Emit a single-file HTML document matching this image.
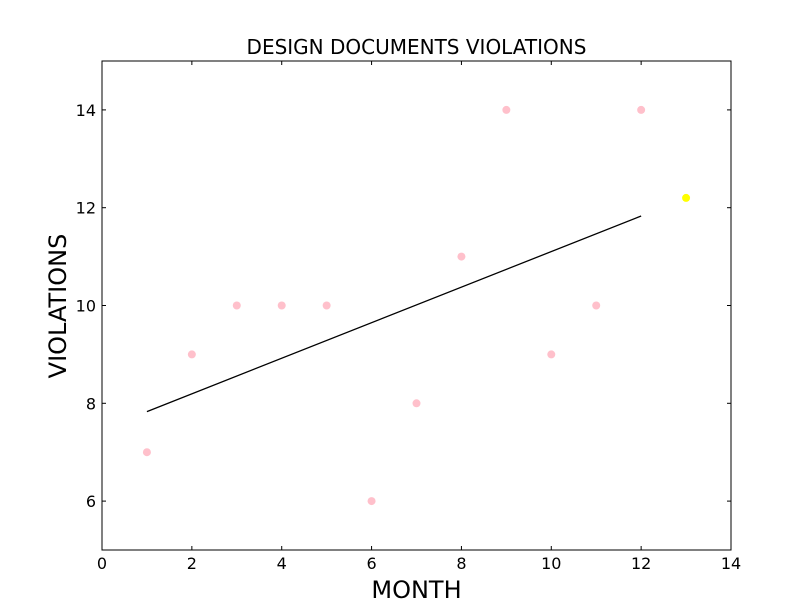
<!DOCTYPE html>
<html><head><meta charset="utf-8"><style>body{margin:0;background:#fff}svg{display:block;font-family:"DejaVu Sans","Liberation Sans",sans-serif}</style></head>
<body>
<svg id="chart" width="812" height="612" viewBox="0 0 812 612"></svg>
<script>
const months=[1,2,3,4,5,6,7,8,9,10,11,12];
const violations=[7,9,10,10,10,6,8,11,14,9,10,14];
const predMonth=[13];
const predValue=[12.2];
const trendX=[1,12];
const trendY=[7.83,11.83];
const xTicks=[0,2,4,6,8,10,12,14];
const yTicks=[6,8,10,12,14];
const L=102,R=731,T=61,B=550;
const xs=v=>L+(v-0)/(14-0)*(R-L);
const ys=v=>B-(v-5)/(15-5)*(B-T);
const svg=document.getElementById('chart');
const NS='http://www.w3.org/2000/svg';
function mk(tag,a,txt){const e=document.createElementNS(NS,tag);for(const k in a)e.setAttribute(k,a[k]);if(txt!==undefined)e.textContent=txt;svg.appendChild(e);return e;}
let e;
e=mk('rect',{x:L,y:T,width:R-L,height:B-T,fill:'none',stroke:'#000','stroke-width':1});


xTicks.forEach(t=>{
 e=mk('line',{x1:xs(t),x2:xs(t),y1:B,y2:B-4,stroke:'#000'});
 
 
 e=mk('line',{x1:xs(t),x2:xs(t),y1:T,y2:T+4,stroke:'#000'});
 
 
 e=mk('text',{x:xs(t),y:B+19,'text-anchor':'middle','font-size':16},t);
 
 
});
yTicks.forEach(t=>{
 e=mk('line',{x1:L,x2:L+4,y1:ys(t),y2:ys(t),stroke:'#000'});
 
 
 e=mk('line',{x1:R,x2:R-4,y1:ys(t),y2:ys(t),stroke:'#000'});
 
 
 e=mk('text',{x:L-6,y:ys(t)+6,'text-anchor':'end','font-size':16},t);
 
 
});
e=mk('line',{x1:xs(trendX[0]),y1:ys(trendY[0]),x2:xs(trendX[1]),y2:ys(trendY[1]),stroke:'#000','stroke-width':1.3});


months.forEach((m,i)=>{
 e=mk('circle',{cx:xs(m),cy:ys(violations[i]),r:4,fill:'#ffc0cb'});
 
 
});
predMonth.forEach((m,i)=>{
 e=mk('circle',{cx:xs(m),cy:ys(predValue[i]),r:4,fill:'#ffff00'});
 
 
});
e=mk('text',{x:(L+R)/2,y:54,'text-anchor':'middle','font-size':20},'DESIGN DOCUMENTS VIOLATIONS');


e=mk('text',{x:(L+R)/2,y:598,'text-anchor':'middle','font-size':24},'MONTH');


e=mk('text',{x:0,y:0,'text-anchor':'middle','font-size':24,transform:'translate(66,306) rotate(-90)'},'VIOLATIONS');


</script>
</body></html>
